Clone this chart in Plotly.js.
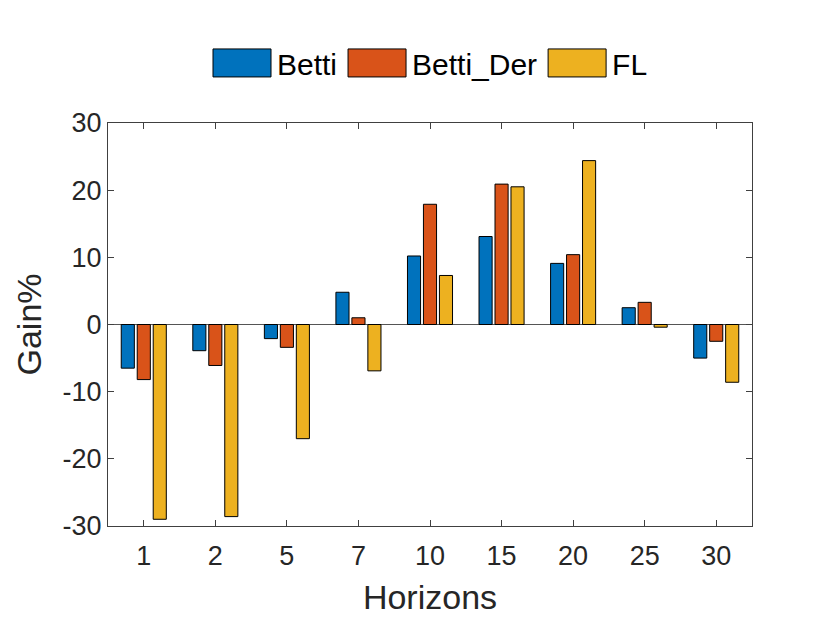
<!DOCTYPE html>
<html>
<head>
<meta charset="utf-8">
<script src="https://cdn.plot.ly/plotly-3.0.1.min.js"></script>
<style>
  html, body { margin: 0; padding: 0; background: #fff; }
  #chart { width: 830px; height: 623px; }
</style>
</head>
<body>
<div id="chart"></div>
<script>
// horizons on the x axis
const horizons = ["1", "2", "5", "7", "10", "15", "20", "25", "30"];

// gain in percent per model
const betti    = [-6.5, -3.9, -2.1, 4.8, 10.2, 13.1, 9.1, 2.5, -5.0];
const bettiDer = [-8.2, -6.1, -3.4, 1.0, 17.9, 20.9, 10.4, 3.3, -2.5];
const fl       = [-29.0, -28.6, -17.0, -6.9, 7.3, 20.5, 24.4, -0.4, -8.6];

// y ticks (plain hyphen like matlab)
const yTicks = [-30, -20, -10, 0, 10, 20, 30];
const yTickText = ["-30", "-20", "-10", "0", "10", "20", "30"];

const seriesNames = ["Betti", "Betti_Der", "FL"];
const seriesColors = ["#0072BD", "#D95319", "#EDB120"];

const FONT = "Liberation Sans, Arial, Helvetica, sans-serif";
const INK = "#262626";

const traces = [betti, bettiDer, fl].map((vals, i) => ({
  type: "bar",
  x: horizons,
  y: vals,
  name: seriesNames[i],
  marker: { color: seriesColors[i], line: { color: "#000", width: 1 } },
  hoverinfo: "x+y+name"
}));

const axisCommon = {
  showline: true,
  linecolor: "#404040",
  linewidth: 1,
  mirror: "allticks",
  ticks: "inside",
  ticklen: 6,
  tickwidth: 1,
  tickcolor: "#404040",
  showgrid: false,
  tickfont: { family: FONT, size: 27, color: INK }
};

const layout = {
  width: 830,
  height: 623,
  paper_bgcolor: "#fff",
  plot_bgcolor: "#fff",
  margin: { l: 108, r: 78, t: 123, b: 97 },
  barmode: "group",
  bargap: 0.33,
  bargroupgap: 0.18,
  showlegend: true,
  legend: {
    orientation: "h",
    x: 0.5,
    xanchor: "center",
    y: 1.149,
    yanchor: "middle",
    itemwidth: 60,
    font: { family: FONT, size: 30, color: "#000" },
    traceorder: "normal"
  },
  xaxis: Object.assign({}, axisCommon, {
    type: "category",
    range: [-0.5, 8.5],
    zeroline: false,
    ticklabelstandoff: 6,
    title: { text: "Horizons", font: { family: FONT, size: 34, color: INK }, standoff: 14 }
  }),
  yaxis: Object.assign({}, axisCommon, {
    range: [-30, 30],
    tickvals: yTicks,
    ticktext: yTickText,
    zeroline: true,
    zerolinecolor: "#555",
    zerolinewidth: 1,
    title: { text: "Gain%", font: { family: FONT, size: 34, color: INK }, standoff: 10 }
  })
};

Plotly.newPlot("chart", traces, layout, { displayModeBar: false, staticPlot: true }).then(gd => {
  // MATLAB legend patches are wide rectangles
  gd.querySelectorAll(".legend .legendpoints path").forEach(p => {
    p.setAttribute("d", "M-29,14H29V-14H-29Z");
  });
});
</script>
</body>
</html>
